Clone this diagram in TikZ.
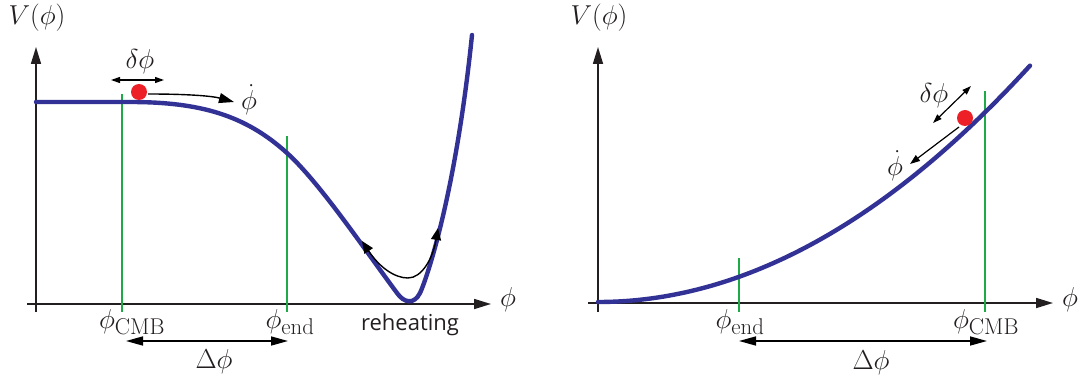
\documentclass[tikz,border=0pt]{standalone}
\usepackage{fontspec}
\usepackage{graphicx}
\newfontfamily\rhfont{Open Sans}
\usetikzlibrary{arrows.meta}
\newcommand\bigmath[1]{\scalebox{1.1}{$#1$}}
\definecolor{axisc}{RGB}{35,31,32}
\definecolor{curvec}{RGB}{50,50,150}
\definecolor{greenc}{RGB}{30,170,70}
\definecolor{ballc}{RGB}{236,32,38}
\tikzset{
  axis/.style={axisc, line width=1.6pt, -{Triangle[length=17pt,width=10pt]}},
  tickl/.style={axisc, line width=1.6pt},
  pot/.style={curvec, line width=4.4pt, line cap=round},
  marker/.style={greenc, line width=2pt},
  ball/.style={circle, fill=ballc, inner sep=0pt, minimum size=16pt},
  span/.style={black, line width=1.6pt, {Triangle[length=17pt,width=9pt]}-{Triangle[length=17pt,width=9pt]}},
  small/.style={black, line width=1.2pt, {Triangle[length=9pt,width=6pt]}-{Triangle[length=9pt,width=6pt]}},
  lab/.style={inner sep=0pt, text=axisc, font=\Huge},
}
\begin{document}
\begin{tikzpicture}[x=1pt,y=-1pt]
\useasboundingbox (0,0) rectangle (1079,377);
% ---------------- left panel ----------------
\draw[tickl] (36,312) -- (36,300);
\draw[axis] (36,305) -- (36,47);
\draw[axis] (27,304) -- (491,304);
\node[lab] (lV) at (37,18) {\bigmath{V(\phi)}};
\node[lab] (lphi) at (508,300) {\bigmath{\phi}};
\draw[marker] (122,94) -- (122,312);
\draw[marker] (287,136) -- (287,312);
\draw[pot] (36,102) -- (130,102) .. controls (200,102) and (245,115) .. (287,153)
  .. controls (320,183) and (365,250) .. (397,293)
  .. controls (404,303) and (414,305) .. (420,293)
  .. controls (425,283) and (455,200) .. (472,35);
\node[ball] (lball) at (139,92) {};
\node[lab] (lcmb) at (132,322) {\bigmath{\phi_{\mathrm{CMB}}}};
\node[lab] (lend) at (290,322) {\bigmath{\phi_{\mathrm{end}}}};
\coordinate (la) at (126,341);
\coordinate (lb) at (288,341);
\draw[span] (la) -- (lb);
\node[lab] (lDelta) at (214,362) {\bigmath{\Delta\phi}};
\coordinate (da) at (111,80);
\coordinate (db) at (164,80);
\draw[small] (da) -- (db);
\node[lab] (ldelta) at (140,62) {\bigmath{\delta\phi}};
\coordinate (lv) at (234,102);
\draw[black, line width=1.4pt, -{Triangle[length=15pt,width=10pt]}] (lball.east) ++(1,2) .. controls (188,94) and (212,96) .. (lv);
\node[lab] (ldot) at (249,100) {\bigmath{\dot\phi}};
\coordinate (ra) at (362,241);
\coordinate (rb) at (438,228);
\draw[black, line width=1.4pt, {Triangle[length=12pt,width=10pt]}-{Triangle[length=12pt,width=10pt]}]
  (ra) .. controls (380,268) and (395,278) .. (408,278) .. controls (422,278) and (433,258) .. (rb);
\node[inner sep=0pt, text=axisc, font=\rhfont\fontsize{22}{26}\selectfont] (reh) at (410,325) {reheating};
% ---------------- right panel ----------------
\draw[tickl] (598,312) -- (598,300);
\draw[axis] (598,305) -- (598,47);
\draw[axis] (588,303) -- (1053,303);
\node[lab] (rV) at (599,18) {\bigmath{V(\phi)}};
\node[lab] (rphi) at (1070,300) {\bigmath{\phi}};
\draw[marker] (739,258) -- (739,312);
\draw[marker] (985,91) -- (985,312);
\draw[pot] plot[domain=598:1030, samples=80] (\x,{302-0.00126*(\x-598)*(\x-598)});
\node[ball] (rball) at (965,118) {};
\node[lab] (rend) at (740,322) {\bigmath{\phi_{\mathrm{end}}}};
\node[lab] (rcmb) at (986,322) {\bigmath{\phi_{\mathrm{CMB}}}};
\coordinate (rsa) at (739,341);
\coordinate (rsb) at (987,341);
\draw[span] (rsa) -- (rsb);
\node[lab] (rDelta) at (871,363) {\bigmath{\Delta\phi}};
\coordinate (rda) at (933,123);
\coordinate (rdb) at (971,86);
\draw[small] (rda) -- (rdb);
\node[lab] (rdelta) at (934,96) {\bigmath{\delta\phi}};
\coordinate (rv) at (910,164);
\draw[black, line width=1.2pt, -{Triangle[length=10pt,width=7pt]}] (959,127) -- (rv);
\node[lab] (rdot) at (895,166) {\bigmath{\dot\phi}};
\end{tikzpicture}
\end{document}
